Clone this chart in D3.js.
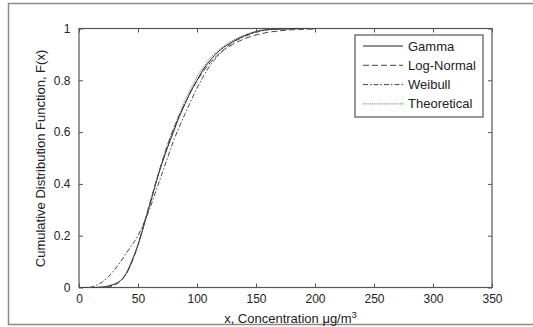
<!DOCTYPE html>
<html>
<head>
<meta charset="utf-8">
<script src="https://cdn.jsdelivr.net/npm/d3@7"></script>
<style>
  body { margin: 0; background: #fff; }
  svg { display: block; font-family: "Liberation Sans", Arial, sans-serif; }
</style>
</head>
<body>
<div id="chart"></div>
<script>
// values
const xTicks = [0, 50, 100, 150, 200, 250, 300, 350];
const yTicks = [0, 0.2, 0.4, 0.6, 0.8, 1];
const seriesNames = ["Gamma", "Log-Normal", "Weibull", "Theoretical"];

const gammaX = [0, 10, 20, 25, 30, 35, 40, 45, 50, 55, 60, 65, 70, 75, 80, 85, 90, 95, 100, 105, 110, 115, 120, 130, 140, 150, 160, 170, 180, 190, 200];
const gammaF = [0, 0, 0.002, 0.006, 0.013, 0.026, 0.055, 0.105, 0.165, 0.24, 0.32, 0.4, 0.475, 0.54, 0.6, 0.66, 0.71, 0.76, 0.8, 0.84, 0.87, 0.897, 0.918, 0.948, 0.972, 0.988, 0.996, 0.998, 0.999, 1, 1];

const lognX = [0, 10, 20, 25, 30, 35, 40, 45, 50, 55, 60, 65, 70, 75, 80, 85, 90, 95, 100, 105, 110, 115, 120, 130, 140, 150, 160, 170, 180, 190, 200];
const lognF = [0, 0, 0, 0.002, 0.009, 0.024, 0.052, 0.1, 0.165, 0.245, 0.325, 0.405, 0.48, 0.548, 0.61, 0.665, 0.712, 0.757, 0.797, 0.832, 0.862, 0.887, 0.908, 0.938, 0.96, 0.975, 0.985, 0.991, 0.995, 0.997, 0.998];

const weibX = [0, 8, 15, 20, 25, 30, 35, 40, 45, 50, 55, 60, 65, 70, 75, 80, 85, 90, 95, 100, 105, 110, 115, 120, 130, 140, 150, 160, 170, 180, 190, 200];
const weibF = [0, 0, 0.01, 0.022, 0.042, 0.068, 0.098, 0.132, 0.165, 0.2, 0.25, 0.305, 0.37, 0.435, 0.5, 0.565, 0.62, 0.672, 0.722, 0.77, 0.812, 0.85, 0.88, 0.905, 0.945, 0.968, 0.985, 0.995, 0.998, 0.999, 1, 1];

const theoX = [0, 15, 22, 28, 33, 38, 42, 46, 50, 54, 58, 62, 66, 70, 74, 78, 82, 86, 90, 94, 98, 102, 106, 110, 116, 122, 128, 135, 142, 150, 158, 166, 175, 185, 200];
const theoF = [0, 0, 0.003, 0.01, 0.02, 0.04, 0.068, 0.11, 0.162, 0.22, 0.29, 0.35, 0.42, 0.478, 0.54, 0.59, 0.635, 0.68, 0.725, 0.762, 0.797, 0.83, 0.855, 0.88, 0.908, 0.93, 0.948, 0.965, 0.977, 0.988, 0.994, 0.997, 0.999, 1, 1];

const W = 533, H = 327;
const margin = { top: 28.5, right: 41, bottom: 39.5, left: 79 };
const innerW = W - margin.left - margin.right;
const innerH = H - margin.top - margin.bottom;

const svg = d3.select("#chart").append("svg")
  .attr("width", W)
  .attr("height", H);

// outer frame of the figure
svg.append("rect")
  .attr("x", 8.5).attr("y", 3.5)
  .attr("width", 540).attr("height", 321)
  .attr("fill", "none")
  .attr("stroke", "#8a8a8a")
  .attr("stroke-width", 1.5);

const g = svg.append("g").attr("transform", `translate(${margin.left},${margin.top})`);

const x = d3.scaleLinear().domain([0, 350]).range([0, innerW]);
const y = d3.scaleLinear().domain([0, 1]).range([innerH, 0]);

const axisColor = "#555";
const textColor = "#222";

// ticks inward on all four sides, matlab-like
function styleAxis(sel) {
  sel.select(".domain").remove();
  sel.selectAll("line").attr("stroke", axisColor);
  sel.selectAll("text").attr("fill", textColor).style("font-size", "12px");
}

g.append("g")
  .attr("transform", `translate(0,${innerH})`)
  .call(d3.axisBottom(x).tickValues(xTicks).tickSizeInner(-4).tickSizeOuter(0).tickPadding(7))
  .call(styleAxis);
g.append("g")
  .call(d3.axisTop(x).tickValues(xTicks).tickSizeInner(-4).tickSizeOuter(0).tickFormat(""))
  .call(styleAxis);
g.append("g")
  .call(d3.axisLeft(y).tickValues(yTicks).tickSizeInner(-4).tickSizeOuter(0).tickPadding(8.5).tickFormat(d3.format("~g")))
  .call(styleAxis);
g.append("g")
  .attr("transform", `translate(${innerW},0)`)
  .call(d3.axisRight(y).tickValues(yTicks).tickSizeInner(-4).tickSizeOuter(0).tickFormat(""))
  .call(styleAxis);

g.append("rect")
  .attr("width", innerW).attr("height", innerH)
  .attr("fill", "none")
  .attr("stroke", axisColor)
  .attr("stroke-width", 1.2);

// curves
const series = [
  { name: seriesNames[0], xs: gammaX, fs: gammaF, dash: null, color: "#222" },
  { name: seriesNames[1], xs: lognX, fs: lognF, dash: "6,3", color: "#444" },
  { name: seriesNames[2], xs: weibX, fs: weibF, dash: "5,2,1.5,2", color: "#444" },
  { name: seriesNames[3], xs: theoX, fs: theoF, dash: "1,1.3", color: "#555" }
];

const line = d3.line()
  .x((d) => x(d[0]))
  .y((d) => y(d[1]))
  .curve(d3.curveMonotoneX);

series.forEach((s) => {
  g.append("path")
    .datum(d3.zip(s.xs, s.fs))
    .attr("d", line)
    .attr("fill", "none")
    .attr("stroke", s.color)
    .attr("stroke-width", 1)
    .attr("stroke-dasharray", s.dash);
});

// legend
const lg = svg.append("g").attr("transform", "translate(355,35)");
lg.append("rect")
  .attr("width", 128).attr("height", 82)
  .attr("fill", "#fff")
  .attr("stroke", axisColor)
  .attr("stroke-width", 1.2);
series.forEach((s, i) => {
  const yy = 11 + i * 19.3;
  lg.append("line")
    .attr("x1", 8).attr("x2", 48)
    .attr("y1", yy).attr("y2", yy)
    .attr("stroke", s.color)
    .attr("stroke-width", 1)
    .attr("stroke-dasharray", s.dash);
  lg.append("text")
    .attr("x", 53).attr("y", yy)
    .attr("dy", "0.35em")
    .attr("fill", textColor)
    .style("font-size", "13px")
    .text(s.name);
});

// axis titles
svg.append("text")
  .attr("x", margin.left + innerW / 2 + 5)
  .attr("y", 323)
  .attr("text-anchor", "middle")
  .attr("fill", textColor)
  .style("font-size", "13px")
  .text("x, Concentration \u03BCg/m")
  .append("tspan")
  .attr("dy", "-5")
  .style("font-size", "9.5px")
  .text("3");

svg.append("text")
  .attr("transform", `translate(44.5,${margin.top + innerH / 2 + 0.5}) rotate(-90)`)
  .attr("text-anchor", "middle")
  .attr("fill", textColor)
  .style("font-size", "13px")
  .text("Cumulative Distribution Function, F(x)");
</script>
</body>
</html>
